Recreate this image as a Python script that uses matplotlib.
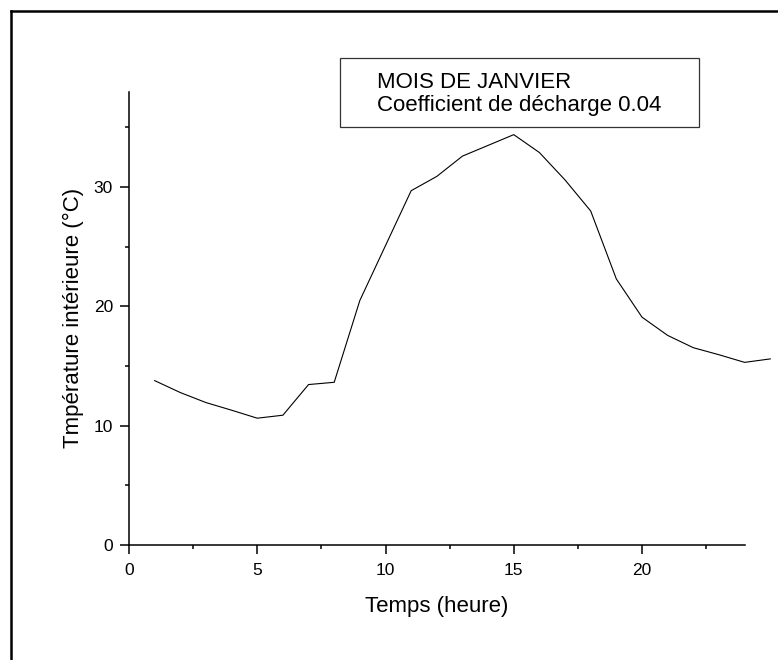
import numpy as np
import matplotlib.pyplot as plt
from matplotlib.patches import Rectangle
from matplotlib.lines import Line2D

# hourly interior temperature, January, discharge coefficient 0.04
heures = [1, 2, 3, 4, 5, 6, 7, 8, 9, 10, 11, 12, 13,
          14, 15, 16, 17, 18, 19, 20, 21, 22, 23, 24, 25]
temperature = [13.78, 12.78, 11.94, 11.3, 10.63, 10.88, 13.45, 13.64, 20.5, 25.1,
               29.7, 30.9, 32.6, 33.5, 34.4, 32.9, 30.6, 28.0, 22.3, 19.1,
               17.57, 16.54, 15.95, 15.31, 15.6]

legend_lines = ["MOIS DE JANVIER", "Coefficient de décharge 0.04"]

plt.rcParams['font.family'] = ['Liberation Sans', 'DejaVu Sans']

W, H = 778, 660
fig = plt.figure(figsize=(W / 100, H / 100), dpi=100)
ax = fig.add_axes([129 / W, 1 - 545 / H, (744.6 - 129) / W, (545 - 91.7) / H])

ax.plot(heures, temperature, color='black', linewidth=0.8, clip_on=False)

ax.set_xlim(0, 24)
ax.set_ylim(0, 38)
ax.set_xticks([0, 5, 10, 15, 20])
ax.set_xticks(np.arange(2.5, 24, 5), minor=True)
ax.set_yticks([0, 10, 20, 30])
ax.set_yticks([5, 15, 25, 35], minor=True)

for side in ['top', 'right']:
    ax.spines[side].set_visible(False)
for side in ['left', 'bottom']:
    ax.spines[side].set_linewidth(1.1)

ax.tick_params(which='major', direction='out', length=6.3, width=1.1,
               labelsize=12.5)
ax.tick_params(axis='x', which='major', pad=7)
ax.tick_params(axis='y', which='major', pad=5.3)
ax.tick_params(which='minor', direction='out', length=3.1, width=1.1)

ax.set_xlabel("Temps (heure)", fontsize=16, labelpad=12.5)
ax.set_ylabel("Tmpérature intérieure (°C)", fontsize=16, labelpad=7)

# legend-like text box
box = Rectangle((340 / W, 1 - 127 / H), (699 - 340) / W, (127 - 57.7) / H,
                transform=fig.transFigure, fill=False, edgecolor='#333333',
                linewidth=0.9)
fig.add_artist(box)
fig.text(377 / W, 1 - 88 / H, legend_lines[0], fontsize=16, va='baseline')
fig.text(377 / W, 1 - 111.5 / H, legend_lines[1], fontsize=16, va='baseline')

# outer frame (left and top edges visible)
fig.add_artist(Line2D([10.5 / W, 10.5 / W], [0, 1 - 10.5 / H],
                      transform=fig.transFigure, color='black', linewidth=1.8))
fig.add_artist(Line2D([10.5 / W, 1], [1 - 10.5 / H, 1 - 10.5 / H],
                      transform=fig.transFigure, color='black', linewidth=1.8))

fig.savefig('out.png', dpi=100)
